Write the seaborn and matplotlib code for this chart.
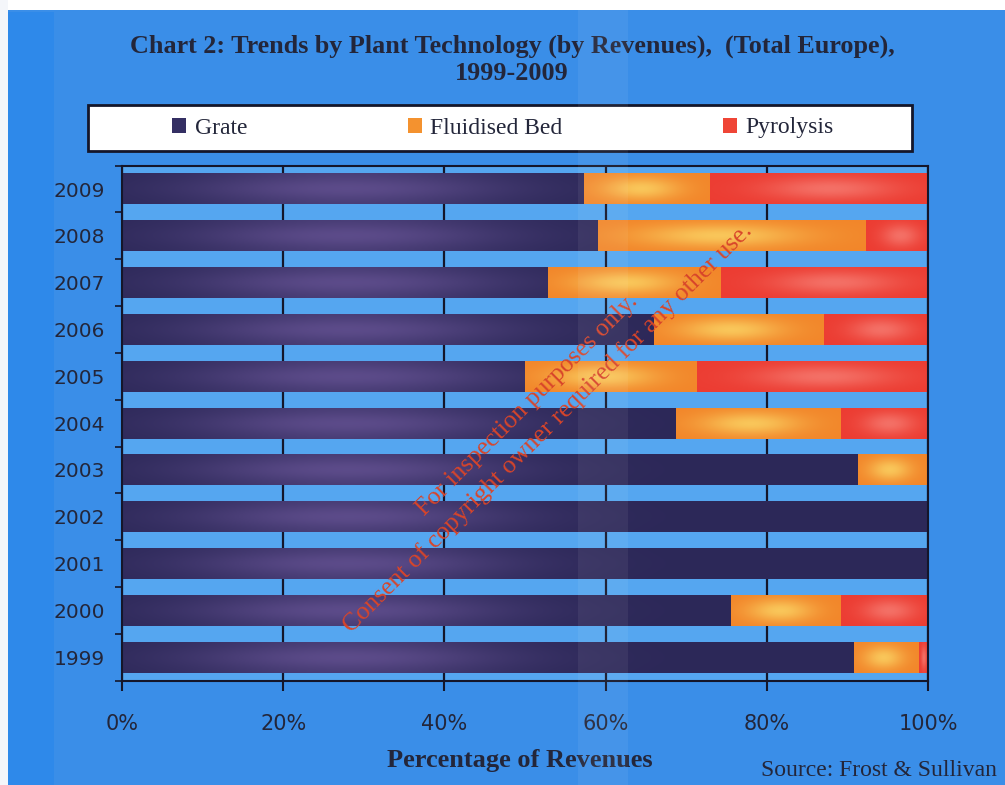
import numpy as np
import pandas as pd
import matplotlib.pyplot as plt
import seaborn as sns
from matplotlib.patches import Rectangle, Patch

# podaci (ocitano sa slike, u %)
years = ["2009", "2008", "2007", "2006", "2005", "2004", "2003", "2002", "2001", "2000", "1999"]
grate = [57.3, 59.0, 52.9, 66.0, 50.0, 68.7, 91.3, 100.0, 100.0, 75.6, 90.8]
fluidised = [15.7, 33.3, 21.4, 21.1, 21.4, 20.5, 8.7, 0.0, 0.0, 13.6, 8.1]
pyrolysis = [27.0, 7.7, 25.7, 12.9, 28.6, 10.8, 0.0, 0.0, 0.0, 10.8, 1.1]
series = ["Grate", "Fluidised Bed", "Pyrolysis"]
xticks = [0, 20, 40, 60, 80, 100]

c_grate = "#342f63"
c_fluid = "#f4922f"
c_pyro = "#ef4536"
bg_out = "#3a8ee8"
bg_plot = "#55a6f0"
dark = "#23263a"
line = "#14162a"

df = pd.DataFrame({"year": years, "grate": grate, "fluid": fluidised, "pyro": pyrolysis})
df["cum_fluid"] = df["grate"] + df["fluid"]
df["cum_pyro"] = df["cum_fluid"] + df["pyro"]

sns.set_style("white")
plt.rcParams["font.family"] = ["DejaVu Sans"]

fig = plt.figure(figsize=(10.05, 7.85), dpi=100)
fig.patch.set_facecolor(bg_out)
ax = fig.add_axes([0.1214, 0.133, 0.802, 0.656])
ax.set_facecolor(bg_plot)

# slozeni stupci: prvo ukupno, pa preko manji dijelovi
for col, c in [("cum_pyro", c_pyro), ("cum_fluid", c_fluid), ("grate", c_grate)]:
    sns.barplot(data=df, x=col, y="year", order=years, orient="h", color=c,
                saturation=1, width=0.66, ax=ax, edgecolor="none")


# sjencanje stupaca (gradijent kao na originalu)
def shade(x0, x1, y0, h, kind):
    if x1 - x0 <= 0.05:
        return
    nx, ny = 200, 30
    xs = np.linspace(x0, x1, nx)
    v = np.linspace(-1, 1, ny)[:, None]
    vert = np.exp(-(v / 0.75) ** 2)
    if kind == "grate":
        base = np.array([44, 40, 88]) / 255
        hi = np.array([104, 84, 150]) / 255
        w = 0.8 * np.exp(-((xs - 28) / 20) ** 2)[None, :] * (0.55 + 0.45 * vert)
    elif kind == "fluid":
        base = np.array([242, 134, 42]) / 255
        hi = np.array([250, 205, 95]) / 255
        u = (xs - x0) / (x1 - x0)
        w = 0.9 * np.exp(-((u - 0.45) / 0.3) ** 2)[None, :] * vert
    else:
        base = np.array([236, 60, 50]) / 255
        hi = np.array([246, 125, 115]) / 255
        u = (xs - x0) / (x1 - x0)
        w = 0.8 * np.exp(-((u - 0.55) / 0.3) ** 2)[None, :] * vert
    img = base[None, None, :] * (1 - w[..., None]) + hi[None, None, :] * w[..., None]
    ax.imshow(img, extent=(x0, x1, y0, y0 + h), origin="lower", aspect="auto",
              interpolation="bilinear", zorder=1.5)


p_pyro, p_fluid, p_grate = ax.containers[0], ax.containers[1], ax.containers[2]
for i in range(len(years)):
    pg, pf, pp = p_grate[i], p_fluid[i], p_pyro[i]
    y0, h = pg.get_y(), pg.get_height()
    shade(0, pg.get_width(), y0, h, "grate")
    shade(pg.get_width(), pf.get_width(), y0, h, "fluid")
    shade(pf.get_width(), pp.get_width(), y0, h, "pyro")

ax.set_xlim(0, 100)
ax.set_ylim(len(years) - 0.5, -0.5)
ax.set_xticks(xticks)
ax.set_xticklabels([f"{t}%" for t in xticks])
ax.set_yticks(np.arange(-0.5, len(years), 1), minor=True)
ax.xaxis.grid(True, color=line, lw=1.6)
ax.yaxis.grid(False)
ax.set_axisbelow(True)
for s in ax.spines.values():
    s.set_color(line)
    s.set_linewidth(1.5)
ax.tick_params(axis="x", bottom=True, length=7, width=1.5, color=line, pad=17,
               labelsize=15, labelcolor=dark)
ax.tick_params(axis="y", which="major", left=False, pad=9, labelsize=14.5, labelcolor=dark)
ax.tick_params(axis="y", which="minor", left=True, length=5, width=1.2, color=line)
ax.set_xlabel("")
ax.set_ylabel("")

# naslov
fig.text(512 / 1005, 1 - 60 / 785,
         "Chart 2: Trends by Plant Technology (by Revenues),  (Total Europe),\n1999-2009",
         ha="center", va="center", fontsize=18.8, fontweight="bold", family="Liberation Serif",
         color=dark, linespacing=1.2)

# legenda: bijeli okvir + legenda bez okvira
fig.patches.append(Rectangle((88 / 1005, 1 - 151 / 785), 824 / 1005, 46 / 785,
                             transform=fig.transFigure, facecolor="white",
                             edgecolor=line, linewidth=2, zorder=1))
handles = [Patch(facecolor=c, edgecolor="none") for c in [c_grate, c_fluid, c_pyro]]
leg = fig.legend(handles, series, loc="center", ncol=3,
                 bbox_to_anchor=(503 / 1005, 1 - 128 / 785),
                 frameon=False, handlelength=0.6, handleheight=0.6,
                 handletextpad=0.35, columnspacing=6.8,
                 prop={"family": "Liberation Serif", "size": 17})
for t in leg.get_texts():
    t.set_color(dark)

fig.text(520 / 1005, 1 - 760 / 785, "Percentage of Revenues", ha="center", va="center",
         fontsize=19, fontweight="bold", family="Liberation Serif", color=dark)
fig.text(997 / 1005, 1 - 770 / 785, "Source: Frost & Sullivan", ha="right", va="center",
         fontsize=17, family="Liberation Serif", color=dark)

# vodeni zig
fig.text(527 / 1005, 1 - 405 / 785, "For inspection purposes only.", rotation=45,
         ha="center", va="center", rotation_mode="anchor", fontsize=18.5,
         family="Liberation Serif", color="#d8452a")
fig.text(548 / 1005, 1 - 428 / 785, "Consent of copyright owner required for any other use.",
         rotation=45, ha="center", va="center", rotation_mode="anchor", fontsize=18.5,
         family="Liberation Serif", color="#d8452a")

# rubovi skena
fig.patches.append(Rectangle((0, 1 - 10 / 785), 1, 10 / 785, transform=fig.transFigure,
                             facecolor="white", edgecolor="none", zorder=10))
fig.patches.append(Rectangle((8 / 1005, 0), 46 / 1005, 1 - 12 / 785, transform=fig.transFigure,
                             facecolor="#2e89ea", edgecolor="none", zorder=10))
fig.patches.append(Rectangle((0, 0), 8 / 1005, 1, transform=fig.transFigure,
                             facecolor="#f4f6fa", edgecolor="none", zorder=10))
fig.patches.append(Rectangle((578 / 1005, 0), 50 / 1005, 1, transform=fig.transFigure,
                             facecolor="white", alpha=0.06, edgecolor="none", zorder=9))

fig.savefig("out.png", dpi=100, facecolor=fig.get_facecolor())
